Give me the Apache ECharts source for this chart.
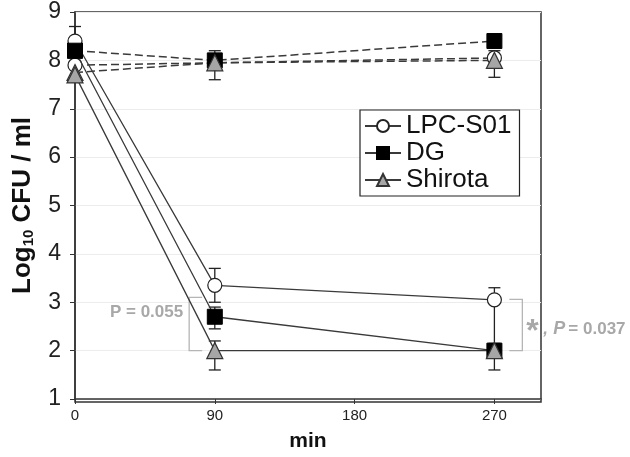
<!DOCTYPE html>
<html><head><meta charset="utf-8">
<script src="https://cdn.jsdelivr.net/npm/echarts@6/dist/echarts.min.js"></script>
<style>html,body{margin:0;padding:0;background:#fff}#c{width:630px;height:457px}</style>
</head><body><div id="c"></div>
<script>
var times = [0, 90, 270];
var xTicks = [0, 90, 180, 270];
// solid (treatment) lines
var lpcSolid = [8.4, 3.35, 3.05];
var dgSolid = [8.2, 2.7, 2.0];
var shiSolid = [7.7, 2.0, 2.0];
// dashed (control) lines
var lpcDash = [7.9, 7.95, 8.05];
var dgDash = [8.2, 8.0, 8.4];
var shiDash = [7.75, 7.95, 8.0];
// error bars [x, low, high]
var errBars = [
  [0, 8.4, 8.7],
  [90, 7.6, 8.2],
  [270, 7.65, 8.2],
  [90, 3.0, 3.7],
  [90, 2.45, 2.9],
  [90, 1.6, 2.2],
  [270, 2.0, 3.3],
  [270, 1.6, 2.15]
];
// brackets [x, yTop, yBottom, dir]
var brackets = [[73.5, 3.1, 2.0, 1], [288, 3.06, 2.0, -1]];
var lblLeft = 'P = 0.055';
var lblRight = ', P = 0.037';

function pts(arr){ return arr.map(function(v,i){ return [times[i], v]; }); }

var solidStyle = {color:'#3a3a3a', width:1.3, type:'solid'};
var dashStyle = {color:'#3a3a3a', width:1.5, type:[8,4]};
var circ = {symbol:'circle', symbolSize:14, itemStyle:{color:'#fff', borderColor:'#222', borderWidth:1.2}};
var sq = {symbol:'rect', symbolSize:15, itemStyle:{color:'#000', borderColor:'#000', borderWidth:1}};
var tri = {symbol:'triangle', symbolSize:16, itemStyle:{color:'#a6a6a6', borderColor:'#333', borderWidth:1.2}};

function mk(name, data, ls, m, z){
  return {type:'line', name:name, data:pts(data), lineStyle:ls, symbol:m.symbol, symbolSize:m.symbolSize,
    itemStyle:m.itemStyle, showSymbol:true, z:z, animation:false, emphasis:{disabled:true}};
}

var chart = echarts.init(document.getElementById('c'));
chart.setOption({
  animation:false,
  grid:{left:75, right:89, top:12, bottom:55},
  xAxis:{type:'value', min:0, max:300, interval:90,
    axisLine:{lineStyle:{color:'#333', width:1.5}},
    axisTick:{show:true, length:5, inside:false, lineStyle:{color:'#333'},
      customValues: xTicks},
    axisLabel:{fontSize:15, color:'#222', fontFamily:'Liberation Sans', margin:9, customValues: xTicks},
    splitLine:{show:false},
    name:'min', nameLocation:'middle', nameGap:32,
    nameTextStyle:{fontSize:21, fontWeight:'bold', color:'#111', fontFamily:'Liberation Sans'}
  },
  yAxis:{type:'value', min:1, max:9, interval:1,
    axisLine:{show:true, lineStyle:{color:'#333', width:1.5}},
    axisTick:{show:true, length:5, lineStyle:{color:'#333'}},
    axisLabel:{fontSize:23, color:'#222', fontFamily:'Liberation Sans', margin:14},
    splitLine:{show:true, lineStyle:{color:'#ececec', width:1}},
    name:'Log{sub|10} CFU / ml', nameLocation:'middle', nameGap:39,
    nameTextStyle:{fontSize:26, fontWeight:'bold', color:'#111', fontFamily:'Liberation Sans',
      rich:{sub:{fontSize:15, fontWeight:'bold', color:'#111', verticalAlign:'bottom', padding:[10,0,0,0], fontFamily:'Liberation Sans'}}}
  },
  legend:{show:true, data:['LPC-S01','DG','Shirota'], orient:'vertical', left:360, top:110,
    itemWidth:36, itemHeight:15, itemGap:1, padding:[3,8,3,4],
    borderColor:'#222', borderWidth:1.2, backgroundColor:'#fff',
    textStyle:{fontSize:26, color:'#111', fontFamily:'Liberation Sans'}},
  graphic:[{type:'rect', shape:{x:75, y:12, width:466, height:390}, style:{fill:'none', stroke:'#333', lineWidth:1.5}, silent:true, z:0}],
  series:[
    mk('LPC-S01c', lpcDash, dashStyle, circ, 3),
    mk('DGc', dgDash, dashStyle, sq, 3),
    mk('Shirotac', shiDash, dashStyle, tri, 3),
    mk('LPC-S01', lpcSolid, solidStyle, circ, 4),
    mk('DG', dgSolid, solidStyle, sq, 4),
    mk('Shirota', shiSolid, solidStyle, tri, 4),
    {type:'custom', name:'err', data:errBars, z:2, animation:false, silent:true,
      renderItem:function(params, api){
        var x = api.value(0), lo = api.value(1), hi = api.value(2);
        var p1 = api.coord([x, lo]), p2 = api.coord([x, hi]);
        var w = 6, st = {stroke:'#222', lineWidth:1.3};
        return {type:'group', children:[
          {type:'line', shape:{x1:p1[0], y1:p1[1], x2:p2[0], y2:p2[1]}, style:st},
          {type:'line', shape:{x1:p1[0]-w, y1:p1[1], x2:p1[0]+w, y2:p1[1]}, style:st},
          {type:'line', shape:{x1:p2[0]-w, y1:p2[1], x2:p2[0]+w, y2:p2[1]}, style:st}
        ]};
      }},
    {type:'custom', name:'brk', data:brackets, z:1, animation:false, silent:true,
      renderItem:function(params, api){
        var x = api.value(0), t = api.value(1), b = api.value(2), d = api.value(3);
        var pt = api.coord([x, t]), pb = api.coord([x, b]);
        var L = 13 * d, st = {stroke:'#b5b5b5', lineWidth:1.3, fill:'none'};
        var children = [{type:'polyline', shape:{points:[[pt[0]+L, pt[1]],[pt[0], pt[1]],[pb[0], pb[1]],[pb[0]+L, pb[1]]]}, style:st}];
        if (d > 0) {
          children.push({type:'text', style:{text:lblLeft, x:pt[0]-6, y:(pt[1]+pb[1])/2-12, align:'right', verticalAlign:'middle',
            fill:'#a8a8a8', font:'bold 17px "Liberation Sans"'}});
        } else {
          children.push({type:'text', style:{text:'*', x:pt[0]+4, y:(pt[1]+pb[1])/2+7, align:'left', verticalAlign:'middle',
            fill:'#a8a8a8', font:'bold 32px "Liberation Sans"'}});
          children.push({type:'text', style:{text:',', x:pt[0]+21, y:(pt[1]+pb[1])/2+4, align:'left', verticalAlign:'middle',
            fill:'#a8a8a8', font:'italic bold 17px "Liberation Sans"'}});
          children.push({type:'text', style:{text:'P', x:pt[0]+31, y:(pt[1]+pb[1])/2+4, align:'left', verticalAlign:'middle',
            fill:'#a8a8a8', font:'italic bold 18px "Liberation Sans"'}});
          children.push({type:'text', style:{text:'= 0.037', x:pt[0]+46, y:(pt[1]+pb[1])/2+4, align:'left', verticalAlign:'middle',
            fill:'#a8a8a8', font:'bold 17px "Liberation Sans"'}});
        }
        return {type:'group', children:children};
      }}
  ]
});
</script></body></html>
